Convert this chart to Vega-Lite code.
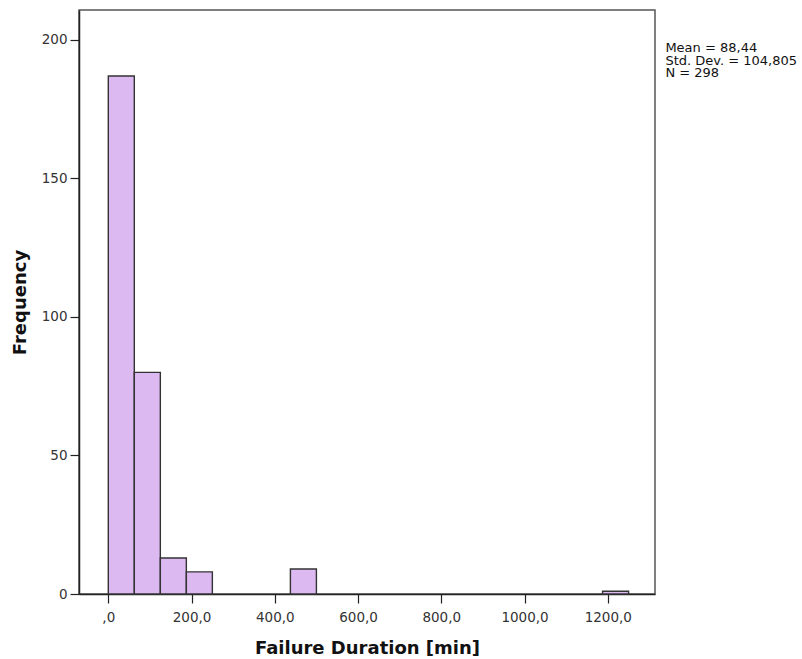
{
  "$schema": "https://vega.github.io/schema/vega-lite/v6.json",
  "width": 576,
  "height": 584,
  "autosize": {"type": "none"},
  "padding": {"left": 79, "top": 10, "right": 147, "bottom": 65},
  "background": "white",
  "config": {
    "view": {"stroke": "#555", "strokeWidth": 1.5},
    "font": "DejaVu Sans"
  },
  "layer": [
    {
      "data": {
        "values": [
          {"bin_start": 0, "bin_end": 62.5, "count": 187},
          {"bin_start": 62.5, "bin_end": 125, "count": 80},
          {"bin_start": 125, "bin_end": 187.5, "count": 13},
          {"bin_start": 187.5, "bin_end": 250, "count": 8},
          {"bin_start": 437.5, "bin_end": 500, "count": 9},
          {"bin_start": 1187.5, "bin_end": 1250, "count": 1}
        ]
      },
      "mark": {"type": "bar", "fill": "#dcb9f1", "stroke": "#333", "strokeWidth": 1.4},
      "encoding": {
        "x": {
          "field": "bin_start",
          "type": "quantitative",
          "scale": {"domain": [-70.4, 1313.5], "nice": false, "zero": false},
          "axis": {
            "title": "Failure Duration [min]",
            "titleFont": "DejaVu Sans",
            "titleFontSize": 18,
            "titleFontWeight": "bold",
            "titleColor": "#111",
            "titleBaseline": "alphabetic",
            "titleY": 59,
            "values": [0, 200, 400, 600, 800, 1000, 1200],
            "labelExpr": "datum.value == 0 ? ',0' : replace(format(datum.value, '.1f'), '.', ',')",
            "labelFont": "DejaVu Sans",
            "labelFontSize": 13.5,
            "labelColor": "#333",
            "labelPadding": 7,
            "tickSize": 9,
            "tickColor": "#222",
            "tickWidth": 1.2,
            "domainColor": "#222",
            "domainWidth": 1.5,
            "grid": false
          }
        },
        "x2": {"field": "bin_end"},
        "y": {
          "field": "count",
          "type": "quantitative",
          "scale": {"domain": [0, 210.8], "nice": false},
          "axis": {
            "title": "Frequency",
            "titleFont": "DejaVu Sans",
            "titleFontSize": 18,
            "titleFontWeight": "bold",
            "titleColor": "#111",
            "titleBaseline": "alphabetic",
            "titleX": -54,
            "titleY": 292,
            "values": [0, 50, 100, 150, 200],
            "labelFont": "DejaVu Sans",
            "labelFontSize": 13.5,
            "labelColor": "#333",
            "labelPadding": 3,
            "tickSize": 9,
            "tickColor": "#222",
            "tickWidth": 1.2,
            "domainColor": "#222",
            "domainWidth": 1.5,
            "grid": false
          }
        },
        "y2": {"datum": 0}
      }
    },
    {
      "data": {"values": [{"label": "Mean = 88,44\nStd. Dev. = 104,805\nN = 298"}]},
      "mark": {
        "type": "text",
        "font": "DejaVu Sans",
        "align": "left",
        "baseline": "alphabetic",
        "lineBreak": "\n",
        "lineHeight": 12.2,
        "fontSize": 13,
        "color": "#111",
        "clip": false
      },
      "encoding": {
        "x": {"datum": 1338.5, "type": "quantitative"},
        "y": {"datum": 195.5, "type": "quantitative"},
        "text": {"field": "label"}
      }
    }
  ]
}
